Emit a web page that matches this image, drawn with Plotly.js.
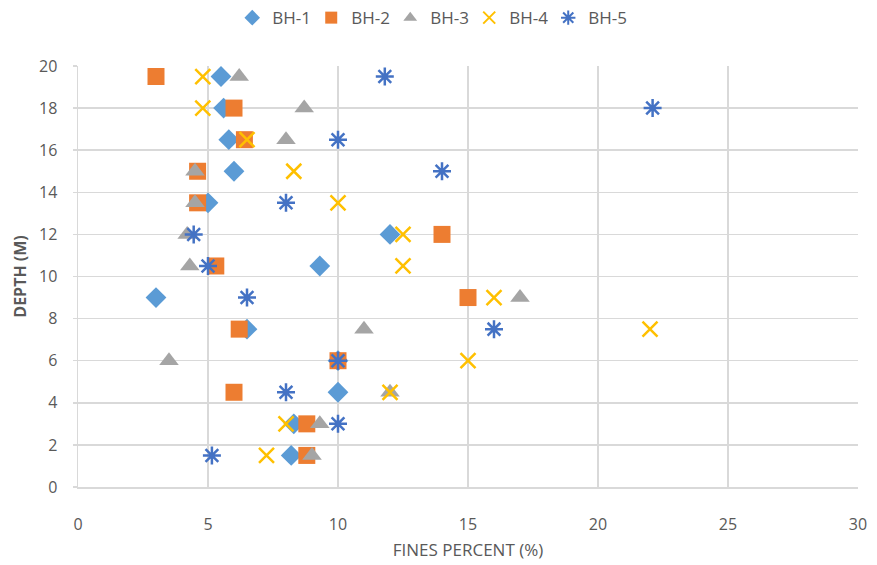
<!DOCTYPE html>
<html><head><meta charset="utf-8">
<script src="https://cdn.plot.ly/plotly-3.0.1.min.js"></script>
<style>body{margin:0;background:#fff}#c{width:877px;height:565px}</style>
</head><body><div id="c"></div>
<script>
const depths = [19.5, 18, 16.5, 15, 13.5, 12, 10.5, 9, 7.5, 6, 4.5, 3, 1.5];
const bh1 = [5.5, 5.6, 5.8, 6.0, 5.0, 12.0, 9.3, 3.0, 6.5, 10.0, 10.0, 8.3, 8.2];
const bh2 = [3.0, 6.0, 6.4, 4.6, 4.6, 14.0, 5.3, 15.0, 6.2, 10.0, 6.0, 8.8, 8.8];
const bh3 = [6.2, 8.7, 8.0, 4.5, 4.5, 4.2, 4.3, 17.0, 11.0, 3.5, 12.0, 9.3, 9.0];
const bh4 = [4.8, 4.8, 6.5, 8.3, 10.0, 12.5, 12.5, 16.0, 22.0, 15.0, 12.0, 8.0, 7.25];
const bh5 = [11.8, 22.1, 10.0, 14.0, 8.0, 4.45, 5.0, 6.5, 16.0, 10.0, 8.0, 10.0, 5.15];
const names = ["BH-1", "BH-2", "BH-3", "BH-4", "BH-5"];
const series = [bh1, bh2, bh3, bh4, bh5];
const colors = ["#5B9BD5", "#ED7D31", "#A5A5A5", "#FFC000", "#4472C4"];
const symbols = ["diamond", "square", "triangle-up", "x-thin-open", "asterisk-open"];
const sizes = [16, 17, 17, 15, 15];

const traces = series.map((s, i) => ({
  type: "scatter", mode: "markers", name: names[i],
  x: s, y: depths,
  marker: {symbol: symbols[i], color: colors[i], size: sizes[i],
    line: {color: colors[i], width: (i >= 3) ? 2.5 : 0}}
}));

const fam = "'Open Sans', sans-serif";
Plotly.newPlot("c", traces, {
  width: 877, height: 565,
  margin: {l: 78, r: 19, t: 66, b: 78, autoexpand: false},
  paper_bgcolor: "#fff", plot_bgcolor: "#fff",
  font: {family: fam, color: "#595959"},
  showlegend: true,
  legend: {orientation: "h", x: 0.49, xanchor: "center", xref: "container",
    y: 0.968, yanchor: "middle", yref: "container", itemsizing: "constant",
    font: {size: 17, color: "#595959", family: fam}, entrywidth: 34, entrywidthmode: "pixels",
    itemwidth: 30, tracegroupgap: 0},
  xaxis: {range: [0, 30], dtick: 5, tick0: 0, showgrid: true, gridcolor: "#D9D9D9", gridwidth: 1.5,
    zeroline: false, showline: true, linecolor: "#D9D9D9", linewidth: 1.5,
    ticks: "", ticklabelstandoff: 22, tickfont: {size: 16, color: "#595959", family: fam},
    title: {text: "FINES PERCENT (%)", font: {size: 17, color: "#595959", family: fam}, standoff: 10}},
  yaxis: {range: [0, 20], dtick: 2, tick0: 0, showgrid: true, gridcolor: "#D9D9D9", gridwidth: 1.5,
    zeroline: false, showline: true, linecolor: "#D9D9D9", linewidth: 1.5,
    ticks: "outside", ticklen: 4, tickcolor: "#D9D9D9", tickwidth: 1.5,
    ticklabelstandoff: 12, tickfont: {size: 16, color: "#595959", family: fam},
    title: {text: "<b>DEPTH (M)</b>", font: {size: 16, color: "#595959", family: fam}, standoff: 8}}
}, {displayModeBar: false, staticPlot: true});
</script></body></html>
